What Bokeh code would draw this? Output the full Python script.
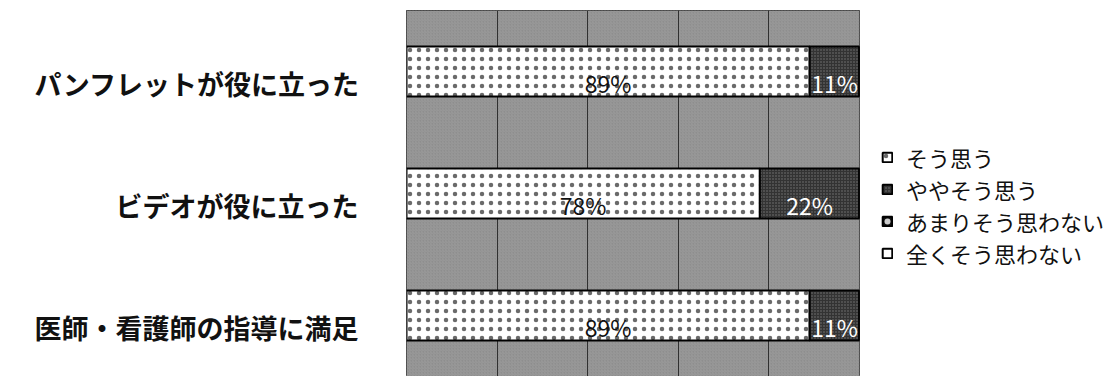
from bokeh.plotting import figure
from bokeh.models import (ColumnDataSource, Range1d, LabelSet, Legend,
                          LegendItem, BoxAnnotation, LinearAxis, FixedTicker)
from bokeh.core.properties import value
from bokeh.embed import file_html
from bokeh.resources import INLINE

# Survey items (top to bottom) and answer shares in percent
categories = ["パンフレットが役に立った", "ビデオが役に立った", "医師・看護師の指導に満足"]
answers = ["そう思う", "ややそう思う", "あまりそう思わない", "全くそう思わない"]
agree = [89, 78, 89]
somewhat_agree = [11, 22, 11]
not_really = [0, 0, 0]
not_at_all = [0, 0, 0]

series = [agree, somewhat_agree, not_really, not_at_all]
keys = ["s0", "s1", "s2", "s3"]

FONT = "Noto Sans CJK JP"

# one unit of y per item, first item on top, bar centred in its slot
n = len(categories)
slot = [n - 1 - i + 0.5 for i in range(n)]

data = {"cat": categories, "y": slot}
for k, vals in zip(keys, series):
    data[k] = vals
source = ColumnDataSource(data)

p = figure(frame_width=453, frame_height=366, y_range=Range1d(0, n),
           x_range=Range1d(0, 100), output_backend="svg", toolbar_location=None,
           x_axis_location=None, y_axis_location=None,
           min_border_left=406, min_border_right=253, min_border_top=10,
           min_border_bottom=0)
p.background_fill_color = "#8e8e8e"
p.border_fill_color = "white"
p.outline_line_color = "#2a2a2a"
p.outline_line_width = 1

# item names on a bare left axis, set a little below each bar's centre
name_drop = 0.1015625
name_ticks = [s - name_drop for s in slot]
yax = LinearAxis(ticker=FixedTicker(ticks=name_ticks, minor_ticks=[]),
                 major_label_overrides={t: c for t, c in zip(name_ticks, categories)},
                 axis_line_color=None, major_tick_line_color=None,
                 minor_tick_line_color=None, major_tick_out=0, major_tick_in=0,
                 major_label_standoff=48, major_label_text_font=FONT,
                 major_label_text_font_style="bold", major_label_text_font_size="27px",
                 major_label_text_color="#111111")
p.add_layout(yax, "left")

# fine diagonal texture over the plot area
p.add_layout(BoxAnnotation(fill_color="#8e8e8e", fill_alpha=1.0, line_alpha=0,
                           hatch_pattern="right_diagonal_line", hatch_color="#9a9a9a",
                           hatch_scale=3, hatch_weight=1, level="image"))

p.xgrid.ticker = [0, 20, 40, 60, 80, 100]
p.xgrid.grid_line_color = "#303030"
p.xgrid.grid_line_width = 1
p.ygrid.grid_line_color = None

styles = [
    dict(fill_color="white", hatch_pattern="dot", hatch_color="#6a6a6a", hatch_scale=9, hatch_weight=0.5),
    dict(fill_color="#333333", hatch_pattern="dot", hatch_color="#787878", hatch_scale=3, hatch_weight=1),
    dict(fill_color="#111111", hatch_pattern="dot", hatch_color="#cccccc", hatch_scale=12, hatch_weight=0.5),
    dict(fill_color="white", hatch_pattern=None),
]

renderers = p.hbar_stack(keys, y="y", height=0.41, source=source,
                         line_color="black", line_width=2,
                         fill_color=[s["fill_color"] for s in styles],
                         hatch_pattern=[s["hatch_pattern"] for s in styles],
                         hatch_color=[s.get("hatch_color", "black") for s in styles],
                         hatch_scale=[s.get("hatch_scale", 6) for s in styles],
                         hatch_weight=[s.get("hatch_weight", 1) for s in styles])

# percentage labels centred in each non-empty segment
lx, ly, lt, lc = [], [], [], []
for i in range(n):
    left = 0
    for j, vals in enumerate(series):
        v = vals[i]
        if v > 0:
            lx.append(left + v / 2)
            ly.append(slot[i])
            lt.append(f"{v}%")
            lc.append("#111111" if j == 0 else "white")
        left += v
pct_src = ColumnDataSource(dict(x=lx, y=ly, t=lt, c=lc))
p.add_layout(LabelSet(x="x", y="y", text="t", source=pct_src, text_color="c",
                      text_align="center", text_baseline="middle", y_offset=-11,
                      text_font=value(FONT), text_font_size=value("23px")))

legend = Legend(items=[LegendItem(label=a, renderers=[r]) for a, r in zip(answers, renderers)],
                location=(20, 105), orientation="vertical",
                glyph_width=12, glyph_height=12, label_height=32, spacing=0,
                label_standoff=13, padding=2, margin=0,
                border_line_alpha=0, background_fill_alpha=0,
                label_text_font=FONT, label_text_font_size="22px",
                label_text_color="#111111")
p.add_layout(legend, "right")

open("out.html", "w").write(file_html(p, INLINE))
